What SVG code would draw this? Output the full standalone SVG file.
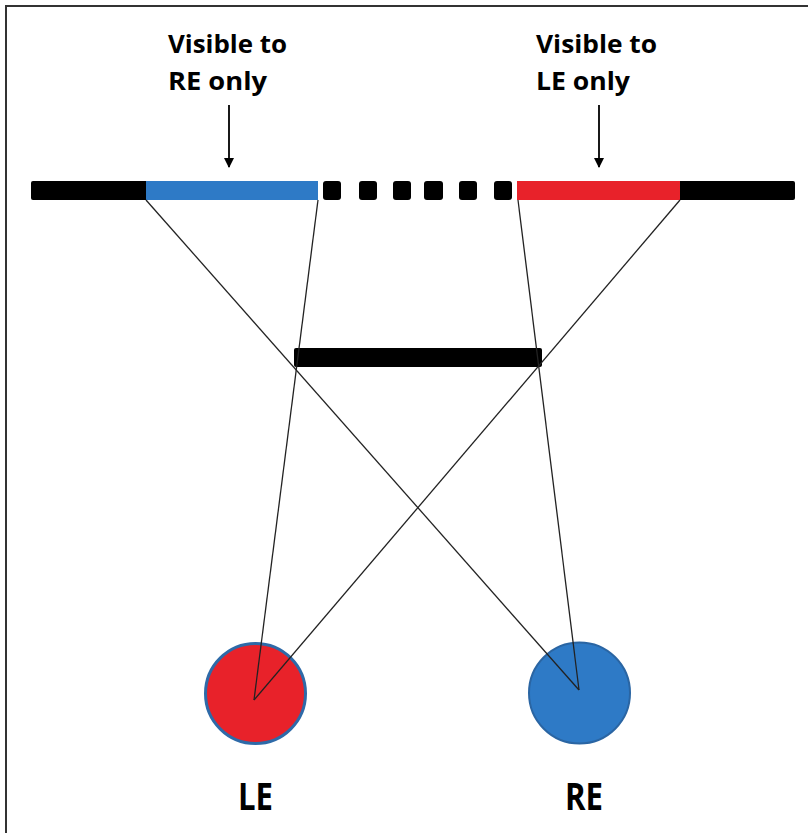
<svg xmlns="http://www.w3.org/2000/svg" width="808" height="833" viewBox="0 0 808 833">
<defs>
<style>
.lbl{font-family:"Open Sans","Liberation Sans",sans-serif;font-weight:bold;fill:#000}
.ray{stroke:#222;stroke-width:1.3;fill:none}
.blk{fill:#000}
</style>
<marker id="ah" viewBox="0 0 10 10" refX="9" refY="5" markerWidth="11" markerHeight="10" markerUnits="userSpaceOnUse" orient="auto">
<path d="M0,0 L10,5 L0,10 z" fill="#000"/>
</marker>
</defs>
<rect x="0" y="0" width="808" height="833" fill="#fff"/>
<rect x="6" y="6" width="820" height="850" fill="none" stroke="#333" stroke-width="2"/>
<g id="top-bar">
<rect class="blk" x="31" y="181" width="118" height="19" rx="2"/>
<rect x="146" y="181" width="172" height="19" fill="#2e7ac6"/>
<rect class="blk" x="323" y="181" width="18" height="19" rx="3"/>
<rect class="blk" x="359" y="181" width="18" height="19" rx="3"/>
<rect class="blk" x="393" y="181" width="18" height="19" rx="3"/>
<rect class="blk" x="424" y="181" width="19" height="19" rx="3"/>
<rect class="blk" x="459" y="181" width="18" height="19" rx="3"/>
<rect class="blk" x="494" y="181" width="18" height="19" rx="3"/>
<rect class="blk" x="677" y="181" width="118" height="19" rx="2"/>
<rect x="517" y="181" width="163" height="19" fill="#e8222a"/>
</g>
<g id="middle-bar">
<rect class="blk" x="294" y="348" width="248" height="19" rx="2"/>
</g>
<g id="label-re-only">
<text class="lbl" x="168" y="53" font-size="25" textLength="119" lengthAdjust="spacingAndGlyphs">Visible to</text>
<text class="lbl" x="168" y="90" font-size="25" textLength="99" lengthAdjust="spacingAndGlyphs">RE only</text>
</g>
<g id="label-le-only">
<text class="lbl" x="536" y="53" font-size="25" textLength="121" lengthAdjust="spacingAndGlyphs">Visible to</text>
<text class="lbl" x="536" y="90" font-size="25" textLength="94" lengthAdjust="spacingAndGlyphs">LE only</text>
</g>
<g id="LE">
<circle cx="255.5" cy="693.5" r="50" fill="#e8222a" stroke="#2e6aa8" stroke-width="3"/>
<text class="lbl" x="238" y="810" font-size="37" textLength="35" lengthAdjust="spacingAndGlyphs">LE</text>
</g>
<g id="RE">
<circle cx="579.5" cy="693" r="50.5" fill="#2e7ac6" stroke="#2a65a3" stroke-width="2"/>
<text class="lbl" x="565" y="810" font-size="37" textLength="38" lengthAdjust="spacingAndGlyphs">RE</text>
</g>
<g id="connectors">
<line class="ray" x1="146" y1="200" x2="579" y2="690"/>
<line class="ray" x1="318" y1="200" x2="254" y2="700"/>
<line class="ray" x1="518" y1="200" x2="579" y2="690"/>
<line class="ray" x1="680" y1="200" x2="254" y2="700"/>
<line x1="229" y1="105" x2="229" y2="167" stroke="#000" stroke-width="1.8" marker-end="url(#ah)"/>
<line x1="599" y1="105" x2="599" y2="167" stroke="#000" stroke-width="1.8" marker-end="url(#ah)"/>
</g>
</svg>
